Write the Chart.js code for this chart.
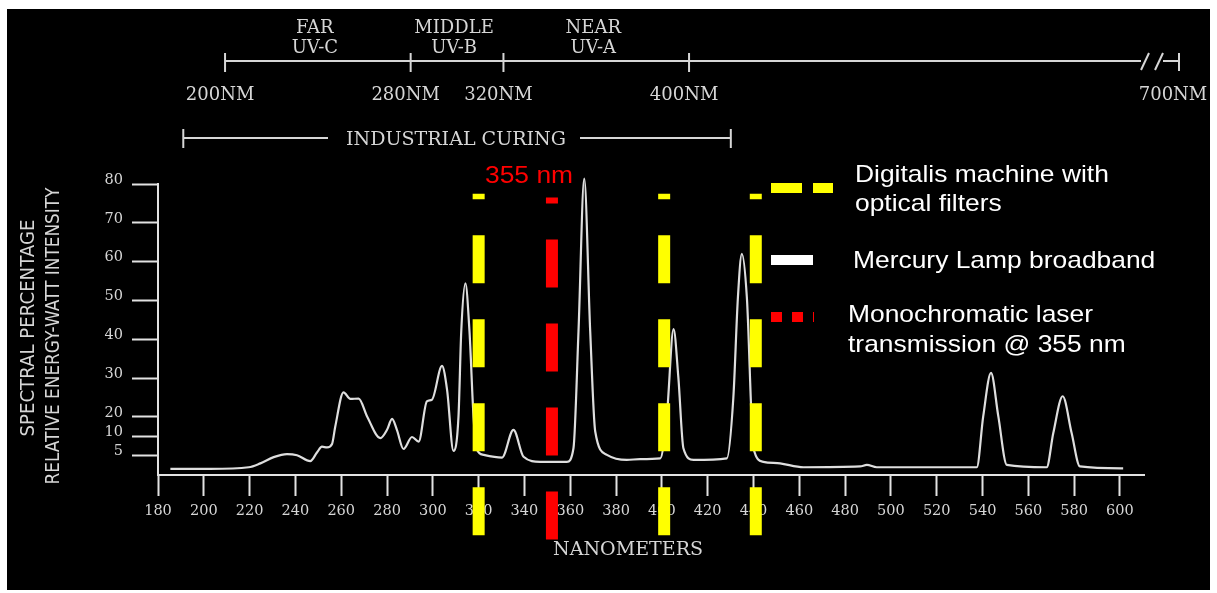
<!DOCTYPE html>
<html>
<head>
<meta charset="utf-8">
<script src="https://cdn.jsdelivr.net/npm/chart.js@4.4.1/dist/chart.umd.min.js"></script>
<style>
  html, body { margin: 0; padding: 0; background: #fff; }
  canvas { display: block; }
</style>
</head>
<body>
<canvas id="spectrumChart" width="1217" height="593"></canvas>
<script>
/* ---- mercury lamp trace (nm / relative %) ---- */
const WAVELENGTH = [
  185.4, 202.9, 219.6, 224.7, 230.5, 236.3, 240.7, 246.5, 249.4, 251.6,
  253.8, 256.0, 257.4, 261.0, 264.0, 267.6, 271.3, 277.1, 280.0, 282.2,
  284.3, 287.2, 290.9, 293.8, 297.4, 299.6, 304.0, 306.2, 309.0, 311.2,
  312.4, 314.2, 316.0, 317.8, 319.3, 322.1, 330.2, 335.2, 339.6, 346.9,
  358.5, 361.4, 363.6, 366.1, 368.7, 370.9, 376.0, 384.7, 390.5, 399.3,
  402.2, 405.1, 407.2, 409.4, 413.8, 428.4, 431.2, 433.2, 434.9, 437.1,
  440.0, 444.3, 451.6, 461.8, 486.5, 489.5, 493.8, 537.5, 540.3, 543.7,
  546.9, 550.6, 568.0, 570.9, 575.0, 578.9, 582.5, 601.4,
];
const INTENSITY = [
  1.6, 1.6, 2.0, 3.0, 4.6, 5.4, 5.1, 3.6, 5.8, 7.3,
  7.1, 8.0, 15.0, 26.3, 24.6, 24.7, 20.1, 9.5, 13.3, 18.9,
  13.3, 6.7, 9.8, 8.6, 24.0, 24.4, 33.1, 27.0, 6.2, 20.1,
  42.0, 54.4, 42.0, 19.4, 6.5, 5.2, 4.5, 13.3, 4.7, 3.4,
  3.4, 6.9, 42.1, 81.4, 42.1, 12.4, 5.2, 3.9, 4.1, 4.3,
  20.5, 42.6, 30.1, 6.9, 3.9, 4.3, 24.9, 50.8, 62.0, 50.8,
  6.9, 3.4, 3.0, 2.0, 2.2, 2.6, 2.0, 2.0, 20.1, 31.3,
  20.1, 2.6, 2.0, 11.6, 25.3, 11.6, 2.2, 1.7,
];

const X_MIN = 180;
const X_MAX = 610.5;
const X_STEP = 20;
const Y_TICKS = [5, 10, 20, 30, 40, 50, 60, 70, 80];

/* ---- dashed markers (nm) and how far they run (in %) ---- */
const FILTER_LINES = [320, 401, 441];
const FILTER_SPAN = [-15.5, 77.5];
const LASER_LINE = 352;
const LASER_SPAN = [-16.6, 76.5];

/* ---- UV band ruler above the plot ---- */
const UV_EDGES = [200, 280, 320, 400];
const UV_NAMES = [['FAR', 'UV-C'], ['MIDDLE', 'UV-B'], ['NEAR', 'UV-A']];
const UV_END = 700;
const CURING_RANGE = [182, 418];
const BAND_MIN = 171.1;
const BAND_MAX = 596.1;

const LEGEND_ITEMS = [
  ['Digitalis machine with', 'optical filters'],
  ['Mercury Lamp broadband'],
  ['Monochromatic laser', 'transmission @ 355 nm'],
];

const GREY = '#d6d6d6';
const AXIS = '#e2e2e2';
const YELLOW = '#ffff00';
const RED = '#ff0000';

/* the scan's y axis is not linear: 0-5-10-20 share the lower gaps, then one gap per 10 % */
function spectralUnits(v) {
  if (v <= 10) return v / 10;
  if (v <= 20) return 1 + (v - 10) / 20;
  return 1.5 + (v - 20) / 10;
}
function spectralValue(u) {
  if (u <= 1) return u * 10;
  if (u <= 1.5) return 10 + (u - 1) * 20;
  return 20 + (u - 1.5) * 10;
}

const LinearScale = Chart.LinearScale || Chart.registry.getScale('linear');
class SpectralScale extends LinearScale {
  buildTicks() {
    return Y_TICKS.map((value) => ({ value }));
  }
  getPixelForValue(value) {
    if (value === null || value === undefined || isNaN(value)) return NaN;
    const u0 = spectralUnits(this.min);
    const u1 = spectralUnits(this.max);
    return this.getPixelForDecimal((spectralUnits(value) - u0) / (u1 - u0));
  }
  getValueForPixel(pixel) {
    const u0 = spectralUnits(this.min);
    const u1 = spectralUnits(this.max);
    return spectralValue(u0 + this.getDecimalForPixel(pixel) * (u1 - u0));
  }
}
SpectralScale.id = 'spectral';
SpectralScale.defaults = {};
Chart.register(SpectralScale);

function markerLine(x, span, color) {
  return {
    data: [{ x, y: span[0] }, { x, y: span[1] }],
    borderColor: color,
    borderWidth: 12,
    borderDash: [48, 36],
    pointRadius: 0,
    clip: false,
    order: 0,
  };
}

/* ---- text helper: stretch > 1 widens, rotate for the y title ---- */
function text(ctx, str, x, y, font, color, align = 'left', stretch = 1, rotate = 0) {
  ctx.save();
  ctx.font = font;
  ctx.fillStyle = color;
  ctx.textAlign = align;
  ctx.textBaseline = 'alphabetic';
  ctx.translate(x, y);
  if (rotate) ctx.rotate(rotate);
  ctx.scale(stretch, 1);
  ctx.fillText(str, 0, 0);
  ctx.restore();
}
function fitText(ctx, str, x, y, font, color, length, rotate = 0) {
  ctx.save();
  ctx.font = font;
  const w = ctx.measureText(str).width;
  ctx.restore();
  text(ctx, str, x, y, font, color, 'center', length / w, rotate);
}
function seg(ctx, x1, y1, x2, y2) {
  ctx.beginPath();
  ctx.moveTo(x1, y1);
  ctx.lineTo(x2, y2);
  ctx.stroke();
}

const decorations = {
  id: 'decorations',
  beforeDraw(chart) {
    const { ctx, width, height } = chart;
    ctx.save();
    ctx.fillStyle = '#ffffff';
    ctx.fillRect(0, 0, width, height);
    ctx.fillStyle = '#000000';
    ctx.fillRect(7, 9, width - 14, height - 12);
    ctx.restore();
  },
  afterDraw(chart) {
    const { ctx, chartArea } = chart;
    const band = chart.scales.band;
    const serif = '18px "DejaVu Serif"';

    ctx.save();
    ctx.strokeStyle = GREY;
    ctx.lineWidth = 2;

    /* UV band ruler */
    const lineY = 61;
    const xs = UV_EDGES.map((v) => band.getPixelForValue(v));
    const xEnd = chartArea.right - 3;
    seg(ctx, xs[0], lineY, xEnd, lineY);
    xs.forEach((x) => seg(ctx, x, 53, x, 72));
    seg(ctx, xEnd, 70, xEnd + 8, 53);          // broken axis mark
    seg(ctx, xEnd + 14, 70, xEnd + 22, 53);
    seg(ctx, xEnd + 22, lineY, xEnd + 38, lineY);
    seg(ctx, xEnd + 38, 53, xEnd + 38, 71);
    UV_EDGES.forEach((v, i) => text(ctx, `${v}NM`, xs[i] - 5, 100, serif, GREY, 'center'));
    text(ctx, `${UV_END}NM`, xEnd + 32, 100, serif, GREY, 'center');
    UV_NAMES.forEach(([a, b], i) => {
      const cx = (xs[i] + xs[i + 1]) / 2 - 3;
      text(ctx, a, cx, 33, serif, GREY, 'center');
      text(ctx, b, cx, 53, serif, GREY, 'center');
    });

    /* industrial curing bracket */
    const c0 = band.getPixelForValue(CURING_RANGE[0]);
    const c1 = band.getPixelForValue(CURING_RANGE[1]);
    seg(ctx, c0, 129, c0, 148);
    seg(ctx, c1, 129, c1, 148);
    seg(ctx, c0, 138, 328, 138);
    seg(ctx, 580, 138, c1, 138);
    fitText(ctx, 'INDUSTRIAL CURING', 456, 145, '19px "DejaVu Serif"', GREY, 220);

    /* axis titles */
    fitText(ctx, 'SPECTRAL PERCENTAGE', 34, 328, '19px "DejaVu Sans"', GREY, 217, -Math.PI / 2);
    fitText(ctx, 'RELATIVE ENERGY-WATT INTENSITY', 59, 336, '19px "DejaVu Sans"', GREY, 297, -Math.PI / 2);
    fitText(ctx, 'NANOMETERS', 628, 555, '19px "DejaVu Serif"', GREY, 150);

    /* laser label */
    const sans = '24px "Liberation Sans", Arial, sans-serif';
    text(ctx, '355 nm', 485, 183, sans, RED, 'left', 1.1);

    /* legend */
    ctx.lineWidth = 10;
    ctx.strokeStyle = YELLOW;
    ctx.setLineDash([31, 11]);
    seg(ctx, 771, 188, 833, 188);
    ctx.strokeStyle = '#ffffff';
    ctx.setLineDash([]);
    seg(ctx, 771, 260, 813, 260);
    ctx.strokeStyle = RED;
    ctx.setLineDash([11, 10]);
    seg(ctx, 771, 317, 814, 317);
    ctx.setLineDash([]);

    const rows = [[855, 182, 29], [853, 268, 0], [848, 322, 30]];
    LEGEND_ITEMS.forEach((lines, i) => {
      const [x, y, step] = rows[i];
      lines.forEach((ln, j) => text(ctx, ln, x, y + j * step, sans, '#ffffff', 'left', 1.1));
    });
    ctx.restore();
  },
};

const datasets = [
  ...FILTER_LINES.map((x) => markerLine(x, FILTER_SPAN, YELLOW)),
  markerLine(LASER_LINE, LASER_SPAN, RED),
  {
    data: WAVELENGTH.map((x, i) => ({ x, y: INTENSITY[i] })),
    borderColor: '#dedede',
    borderWidth: 2.2,
    pointRadius: 0,
    cubicInterpolationMode: 'monotone',
    clip: false,
    order: 1,
  },
];

const tickFont = { family: '"DejaVu Serif"', size: 14.5 };

new Chart(document.getElementById('spectrumChart'), {
  type: 'line',
  data: { datasets },
  options: {
    responsive: false,
    animation: false,
    events: [],
    layout: { padding: { top: 184, right: 73, left: 0, bottom: 0 } },
    plugins: { legend: { display: false }, tooltip: { enabled: false } },
    scales: {
      x: {
        type: 'linear',
        min: X_MIN,
        max: X_MAX,
        afterFit: (s) => { s.height = 118; },
        border: { display: true, color: AXIS, width: 2 },
        grid: { drawOnChartArea: false, drawTicks: true, tickLength: 21, tickColor: AXIS, tickWidth: 2 },
        ticks: {
          stepSize: X_STEP, includeBounds: false, autoSkip: false, maxRotation: 0,
          padding: 7, color: GREY, font: tickFont,
        },
      },
      band: {
        type: 'linear',
        position: 'top',
        display: false,
        min: BAND_MIN,
        max: BAND_MAX,
      },
      y: {
        type: 'spectral',
        min: 0,
        max: 80,
        afterFit: (s) => { s.width = 158; },
        border: { display: true, color: AXIS, width: 2 },
        grid: { drawOnChartArea: false, drawTicks: true, tickLength: 26, tickColor: AXIS, tickWidth: 2 },
        ticks: { padding: 9, labelOffset: -4, color: GREY, font: tickFont, callback: (v) => String(v) },
      },
    },
  },
  plugins: [decorations],
});
</script>
</body>
</html>
